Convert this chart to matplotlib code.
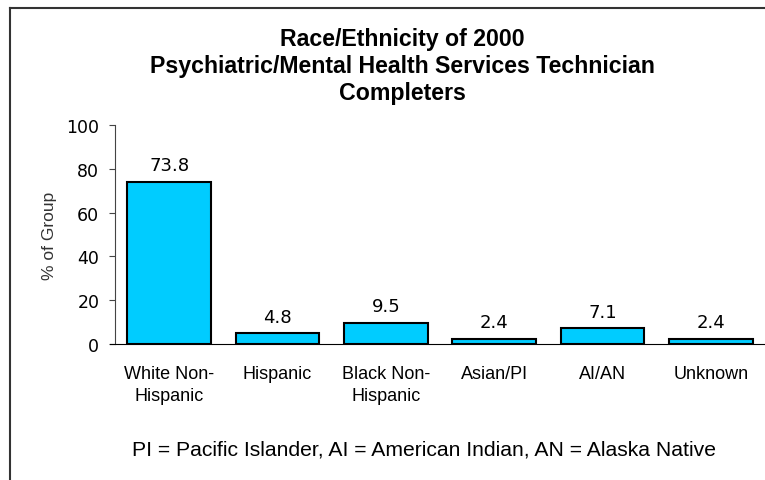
import matplotlib.pyplot as plt
from matplotlib.lines import Line2D

plt.rcParams['font.family'] = ['Liberation Sans', 'DejaVu Sans']

# race/ethnicity breakdown, percent of completers
groups = ["White Non-\nHispanic", "Hispanic", "Black Non-\nHispanic", "Asian/PI", "AI/AN", "Unknown"]
pct = [73.8, 4.8, 9.5, 2.4, 7.1, 2.4]
yticks = [0, 20, 40, 60, 80, 100]

fig = plt.figure(figsize=(7.65, 4.81), dpi=100)
ax = fig.add_axes([115 / 765, 1 - 345 / 481, 650 / 765, 219 / 481])

x = range(len(groups))
bars = ax.bar(x, pct, width=0.77, color="#00CCFF", edgecolor="black", linewidth=1.5)
for b, v in zip(bars, pct):
    ax.annotate(f"{v:.1f}", (b.get_x() + b.get_width() / 2, v),
                xytext=(0, 8.6), textcoords="offset points",
                ha="center", va="baseline", fontsize=13, family="DejaVu Sans")

ax.set_xlim(-0.5, len(groups) - 0.5)
ax.set_ylim(0, 100)
ax.set_yticks(yticks)
ax.set_xticks(list(x))
ax.set_xticklabels(groups, fontsize=13, linespacing=1.4)
ax.tick_params(axis="x", length=0, pad=15)
ax.tick_params(axis="y", labelsize=12.5, length=4.3, width=0.8, direction="out", pad=7,
               colors="#444444", labelcolor="black")
for lbl in ax.get_yticklabels():
    lbl.set_family("DejaVu Sans")
for s in ("top", "right"):
    ax.spines[s].set_visible(False)
ax.spines["left"].set_linewidth(0.8)
ax.spines["left"].set_color("#444444")
ax.spines["bottom"].set_linewidth(0.8)
ax.spines["bottom"].set_bounds(-0.545, len(groups) - 0.5)

ax.set_ylabel("% of Group", fontsize=12.5, color="#333333", labelpad=7)

fig.text(402 / 765, 1 - 66.5 / 481,
         "Race/Ethnicity of 2000\nPsychiatric/Mental Health Services Technician\nCompleters",
         ha="center", va="center", fontsize=16.7, fontweight="bold", linespacing=1.2)
fig.text(424 / 765, 1 - 450 / 481,
         "PI = Pacific Islander, AI = American Indian, AN = Alaska Native",
         ha="center", va="center", fontsize=15.2)

# chart frame, left and top edges
fig.add_artist(Line2D([10 / 765, 10 / 765], [0, 1 - 8.5 / 481], color="#333333", lw=1.5))
fig.add_artist(Line2D([10 / 765, 1], [1 - 8.5 / 481, 1 - 8.5 / 481], color="#333333", lw=1.5))

fig.savefig("out.png", dpi=100)
